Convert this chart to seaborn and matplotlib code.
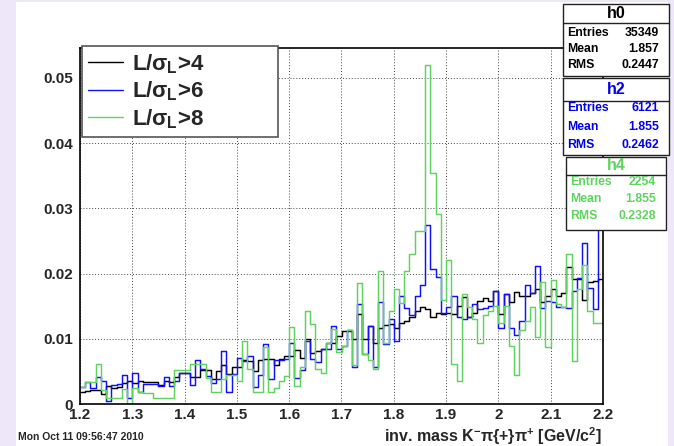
import numpy as np
import pandas as pd
import matplotlib
matplotlib.use("Agg")
import matplotlib.pyplot as plt
import seaborn as sns
from matplotlib.patches import Rectangle
from matplotlib.lines import Line2D
from matplotlib.ticker import MultipleLocator

# ---------------- data ----------------
x_range = (1.2, 2.2)
n_bins = 100
bin_edges = np.linspace(x_range[0], x_range[1], n_bins + 1)
bin_centers = (bin_edges[:-1] + bin_edges[1:]) / 2

h0_values = [
    0.0019, 0.0020, 0.0021, 0.0022, 0.0016, 0.0028, 0.0024, 0.0026, 0.0032, 0.0035,
    0.0032, 0.0035, 0.0034, 0.0033, 0.0034, 0.0029, 0.0035, 0.0033, 0.0042, 0.0047,
    0.0047, 0.0042, 0.0042, 0.0052, 0.0052, 0.0038, 0.0051, 0.0060, 0.0046, 0.0056,
    0.0057, 0.0067, 0.0066, 0.0050, 0.0067, 0.0069, 0.0069, 0.0060, 0.0069, 0.0074,
    0.0074, 0.0083, 0.0070, 0.0099, 0.0078, 0.0082, 0.0084, 0.0093, 0.0094, 0.0104,
    0.0112, 0.0112, 0.0100, 0.0138, 0.0100, 0.0119, 0.0093, 0.0116, 0.0121, 0.0123,
    0.0117, 0.0124, 0.0127, 0.0134, 0.0143, 0.0149, 0.0146, 0.0134, 0.0139, 0.0138,
    0.0140, 0.0138, 0.0151, 0.0164, 0.0134, 0.0140, 0.0158, 0.0163, 0.0158, 0.0173,
    0.0138, 0.0168, 0.0157, 0.0172, 0.0166, 0.0166, 0.0171, 0.0176, 0.0157, 0.0165,
    0.0176, 0.0165, 0.0171, 0.0210, 0.0192, 0.0192, 0.0160, 0.0187, 0.0189, 0.0191,
]
h2_values = [
    0.0026, 0.0033, 0.0025, 0.0042, 0.0035, 0.0004, 0.0029, 0.0030, 0.0045, 0.0009,
    0.0048, 0.0019, 0.0031, 0.0030, 0.0030, 0.0028, 0.0042, 0.0028, 0.0036, 0.0048,
    0.0048, 0.0029, 0.0068, 0.0054, 0.0043, 0.0032, 0.0039, 0.0082, 0.0019, 0.0046,
    0.0070, 0.0066, 0.0074, 0.0026, 0.0045, 0.0092, 0.0039, 0.0068, 0.0068, 0.0069,
    0.0093, 0.0040, 0.0052, 0.0097, 0.0069, 0.0065, 0.0085, 0.0085, 0.0119, 0.0085,
    0.0089, 0.0113, 0.0056, 0.0153, 0.0076, 0.0119, 0.0056, 0.0157, 0.0092, 0.0130,
    0.0097, 0.0166, 0.0148, 0.0136, 0.0166, 0.0183, 0.0274, 0.0207, 0.0195, 0.0140,
    0.0149, 0.0166, 0.0134, 0.0130, 0.0133, 0.0153, 0.0146, 0.0148, 0.0150, 0.0173,
    0.0117, 0.0169, 0.0117, 0.0106, 0.0128, 0.0183, 0.0170, 0.0211, 0.0148, 0.0158,
    0.0157, 0.0149, 0.0149, 0.0148, 0.0174, 0.0194, 0.0247, 0.0178, 0.0146, 0.0288,
]
h4_values = [
    0.0026, 0.0034, 0.0034, 0.0061, 0.0022, 0.0009, 0.0009, 0.0009, 0.0023, 0.0000,
    0.0025, 0.0019, 0.0017, 0.0017, 0.0009, 0.0009, 0.0009, 0.0009, 0.0052, 0.0052,
    0.0052, 0.0061, 0.0061, 0.0061, 0.0040, 0.0018, 0.0018, 0.0038, 0.0044, 0.0044,
    0.0035, 0.0097, 0.0053, 0.0018, 0.0018, 0.0088, 0.0018, 0.0025, 0.0035, 0.0043,
    0.0118, 0.0027, 0.0057, 0.0142, 0.0123, 0.0053, 0.0048, 0.0094, 0.0115, 0.0080,
    0.0089, 0.0113, 0.0060, 0.0186, 0.0076, 0.0067, 0.0053, 0.0204, 0.0094, 0.0143,
    0.0176, 0.0155, 0.0204, 0.0230, 0.0266, 0.0266, 0.0520, 0.0354, 0.0292, 0.0160,
    0.0221, 0.0061, 0.0035, 0.0168, 0.0149, 0.0130, 0.0094, 0.0137, 0.0143, 0.0151,
    0.0124, 0.0151, 0.0089, 0.0044, 0.0114, 0.0127, 0.0149, 0.0102, 0.0187, 0.0088,
    0.0190, 0.0153, 0.0149, 0.0230, 0.0066, 0.0176, 0.0213, 0.0142, 0.0124, 0.0124,
]
series_labels = [r"L/$\sigma_{L}$>4", r"L/$\sigma_{L}$>6", r"L/$\sigma_{L}$>8"]
hist_names = ["h0", "h2", "h4"]
stat_names = ["Entries", "Mean", "RMS"]
h0_stats = ["35349", "1.857", "0.2447"]
h2_stats = ["6121", "1.855", "0.2462"]
h4_stats = ["2254", "1.855", "0.2328"]

x_ticks = [1.2, 1.3, 1.4, 1.5, 1.6, 1.7, 1.8, 1.9, 2.0, 2.1, 2.2]
x_tick_labels = ["1.2", "1.3", "1.4", "1.5", "1.6", "1.7", "1.8", "1.9", "2", "2.1", "2.2"]
y_ticks = [0, 0.01, 0.02, 0.03, 0.04, 0.05]
y_tick_labels = ["0", "0.01", "0.02", "0.03", "0.04", "0.05"]
x_title = r"inv. mass K$^{-}$π{+}π$^{+}$ [GeV/c$^{2}$]"
date_text = "Mon Oct 11 09:56:47 2010"

# ---------------- style ----------------
sns.set_theme(style="white")
plt.rcParams["font.family"] = ["Liberation Sans", "DejaVu Sans"]
plt.rcParams["font.weight"] = "bold"
plt.rcParams["mathtext.fontset"] = "custom"
plt.rcParams["mathtext.rm"] = "Liberation Sans:bold"
plt.rcParams["mathtext.it"] = "Liberation Sans:bold"
plt.rcParams["mathtext.bf"] = "Liberation Sans:bold"
plt.rcParams["mathtext.sf"] = "Liberation Sans:bold"

W, H = 674, 446
colors = ["#000000", "#1010ff", "#5fd35f"]


def fx(x):
    return x / W


def fy(y):
    return 1 - y / H


fig = plt.figure(figsize=(W / 100, H / 100), dpi=100, facecolor="#eee6f9")
fig.patches.append(Rectangle((fx(16), 0), fx(668) - fx(16), fy(2), transform=fig.transFigure,
                             facecolor="white", edgecolor="none", zorder=-10))

ax = fig.add_axes([fx(80), fy(404), fx(603) - fx(80), fy(48) - fy(404)])
ax.patch.set_facecolor("white")

for vals, col, lab in zip([h0_values, h2_values, h4_values], colors, series_labels):
    df = pd.DataFrame({"mass": bin_centers, "w": vals})
    sns.histplot(data=df, x="mass", weights="w", bins=n_bins, binrange=x_range,
                 element="step", fill=False, color=col, linewidth=1.05, ax=ax, label=lab)

ax.set_xlim(*x_range)
ax.set_ylim(0, 0.0546)
ax.set_xticks(x_ticks)
ax.set_xticklabels(x_tick_labels)
ax.set_yticks(y_ticks)
ax.set_yticklabels(y_tick_labels)
ax.xaxis.set_minor_locator(MultipleLocator(0.02))
ax.yaxis.set_minor_locator(MultipleLocator(0.002))
ax.set_xlabel("")
ax.set_ylabel("")
ax.tick_params(axis="x", which="major", direction="in", length=8.6, width=1.0, pad=3,
               labelsize=11, color="black")
ax.tick_params(axis="x", which="minor", direction="in", length=4.3, width=1.0, color="black")
ax.tick_params(axis="y", which="major", direction="in", length=10.8, width=1.0, pad=5,
               labelsize=11, color="black")
ax.tick_params(axis="y", which="minor", direction="in", length=5.0, width=1.0, color="black")
for t in ax.get_xticklabels() + ax.get_yticklabels():
    t.set_fontweight("bold")
ax.grid(True, which="major", linestyle=(0, (1, 2)), color="#444444", linewidth=0.7)
for s in ax.spines.values():
    s.set_visible(True)
    s.set_color("black")
    s.set_linewidth(1.2)

handles = [Line2D([], [], color=c, lw=1.0) for c in colors]
leg = ax.legend(handles, series_labels, loc="upper left",
                bbox_to_anchor=(fx(81.5), fy(135), fx(278) - fx(81.5), fy(46) - fy(135)),
                bbox_transform=fig.transFigure, mode="expand", borderaxespad=0,
                fontsize=16, frameon=True, fancybox=False, framealpha=1,
                edgecolor="#555555", handlelength=1.6, handletextpad=0.4,
                labelspacing=0.17, borderpad=0.28)
leg.get_frame().set_linewidth(1.2)
for t in leg.get_texts():
    t.set_fontweight("bold")


def stats_box(x0, y0, x1, y1, sep_y, title, title_y, row_ys, values, color):
    fig.patches.append(Rectangle((fx(x0), fy(y1)), fx(x1) - fx(x0), fy(y0) - fy(y1),
                                 transform=fig.transFigure, facecolor="white",
                                 edgecolor="#222222", linewidth=1.0, zorder=5))
    fig.add_artist(Line2D([fx(x0), fx(x1)], [fy(sep_y), fy(sep_y)], transform=fig.transFigure,
                          color="#222222", lw=1.0, zorder=6))
    fig.text(fx((x0 + x1) / 2), fy(title_y), title, color=color, fontsize=11.5,
             fontweight="bold", ha="center", va="center", zorder=7)
    for name, val, yy in zip(stat_names, values, row_ys):
        fig.text(fx(x0 + 4), fy(yy), name, color=color, fontsize=8.8, fontweight="bold",
                 ha="left", va="center", zorder=7)
        fig.text(fx(x1 - 10), fy(yy), val, color=color, fontsize=8.8, fontweight="bold",
                 ha="right", va="center", zorder=7)


stats_box(563, 4, 669, 76, 23, hist_names[0], 13, [33, 49, 65], h0_stats, colors[0])
stats_box(563, 78, 669, 155, 101, hist_names[1], 90, [108, 127, 145], h2_stats, "#0000ee")
stats_box(566, 157, 666, 230, 175, hist_names[2], 166, [182, 199, 216], h4_stats, colors[2])

fig.text(fx(18), fy(437), date_text, fontsize=7.5, fontweight="bold", ha="left", va="center")
fig.text(fx(602), fy(436), x_title, fontsize=11.5, fontweight="bold", ha="right", va="center")

fig.savefig("out.png", dpi=100, facecolor=fig.get_facecolor())
